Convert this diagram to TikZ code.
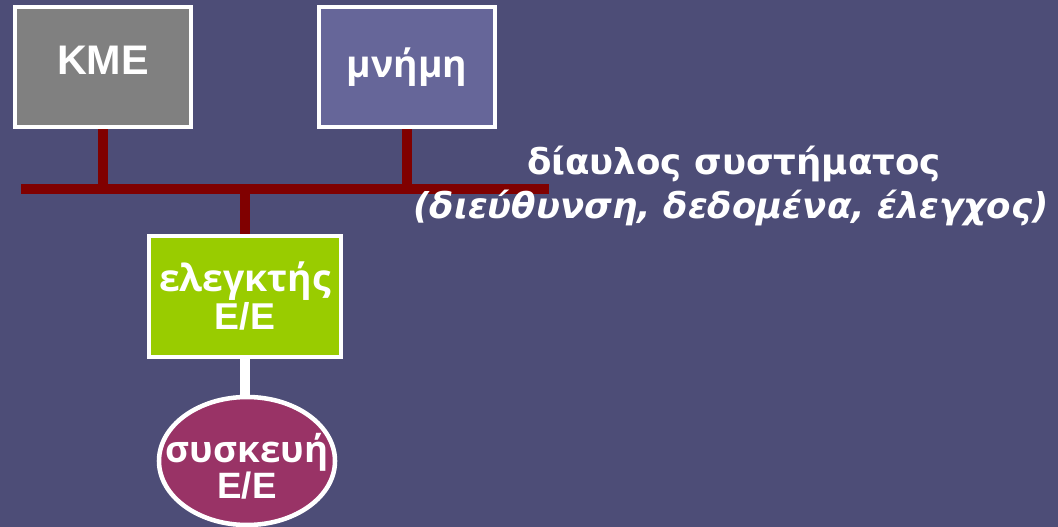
\documentclass[tikz,border=0pt]{standalone}
\usepackage{fontspec}
\setmainfont{Open Sans}
\newfontfamily\kmefont{Liberation Sans}
\newfontfamily\busfont{DejaVu Sans}[BoldFont={DejaVu Sans Bold}, BoldItalicFont={DejaVu Sans Bold Oblique}]
\usetikzlibrary{shapes.geometric}
\definecolor{slide}{RGB}{77,77,119}
\definecolor{busred}{RGB}{128,0,0}
\definecolor{cpugray}{RGB}{128,128,128}
\definecolor{memblue}{RGB}{102,102,153}
\definecolor{ctrlgreen}{RGB}{153,204,0}
\definecolor{devplum}{RGB}{153,51,102}
\tikzset{
  unit/.style={draw=white, line width=3.4pt, text=white, align=center, inner sep=0pt,
    font=\bfseries\fontsize{28}{28.5}\selectfont},
  busline/.style={draw=busred, line width=7.5pt},
  buslabel/.style={anchor=base, text=white, inner sep=0pt}
}
\newcommand\ee{{\kmefont\bfseries Ε/Ε}}
\begin{document}
\begin{tikzpicture}[x=0.75pt, y=-0.75pt]
\fill[slide] (0,0) rectangle (1058,527);
\useasboundingbox (0,0) rectangle (1058,527);
% the units
\node[unit, fill=cpugray, minimum width=132pt, minimum height=90pt, text height=22pt, text depth=10.5pt,
  font=\kmefont\bfseries\fontsize{31}{31}\selectfont] (cpu) at (103,67) {ΚΜΕ};
\node[unit, fill=memblue, minimum width=132pt, minimum height=90pt] (mem) at (407,67) {μνήμη};
\node[unit, fill=ctrlgreen, minimum width=144pt, minimum height=90.75pt] (ctrl) at (245,296.5) {ελεγκτής\\\ee};
\node[unit, ellipse, fill=devplum, minimum width=132pt, minimum height=96pt,
  font=\bfseries\fontsize{27.5}{24.75}\selectfont] (dev) at (247,461)
  {\makebox[0pt]{συσκευή}\rule{0pt}{30pt}\\\makebox[0pt]{\ee}};
% system bus
\coordinate (busW) at (21,189);
\coordinate (busE) at (549,189);
\draw[busline] (busW) -- (busE);
\draw[busline] (cpu.south) -- (cpu.south |- busW);
\draw[busline] (mem.south) -- (mem.south |- busW);
\draw[busline] (ctrl.north |- busW) -- (ctrl.north);
\draw[draw=white, line width=7.5pt] (ctrl.south) -- (ctrl.south |- dev.north);
\node[buslabel, font=\busfont\bfseries\fontsize{26.7}{26.7}\selectfont] (bustitle) at (734,175) {δίαυλος συστήματος};
\node[buslabel, font=\busfont\bfseries\itshape\fontsize{26.7}{26.7}\selectfont] (busdesc) at (731,219) {(διεύθυνση, δεδομένα, έλεγχος)};
\end{tikzpicture}
\end{document}
